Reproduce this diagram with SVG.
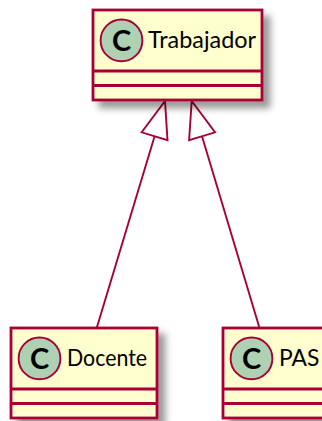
<svg xmlns="http://www.w3.org/2000/svg" width="322" height="421" viewBox="0 0 322 421">
<defs>
<filter id="sh" x="-20%" y="-20%" width="150%" height="150%">
<feGaussianBlur in="SourceAlpha" stdDeviation="3.5" result="b"/>
<feColorMatrix in="b" type="matrix" values="0 0 0 0 0  0 0 0 0 0  0 0 0 0 0  0 0 0 0.4 0" result="c"/>
<feOffset in="c" dx="7" dy="7" result="o"/>
<feBlend in="SourceGraphic" in2="o" mode="normal"/>
</filter>
<style>
.box{fill:#FEFECE;stroke:#A80036;stroke-width:2.8}
.sep{stroke:#A80036;stroke-width:2.8}
.circ{fill:#ADD1B2;stroke:#A80036;stroke-width:1.9}
.cl{font-family:Lato,"Liberation Sans",sans-serif;font-weight:bold;font-size:29px;fill:#000;text-anchor:middle}
.name{font-family:Lato,"Liberation Sans",sans-serif;font-size:22.8px;fill:#000}
.edge{stroke:#A80036;stroke-width:1.9;fill:none}
.head{stroke:#A80036;stroke-width:1.9;fill:#FFFFFF}
</style>
</defs>
<g id="connectors">
<line class="edge" x1="154.6" y1="136.2" x2="96.7" y2="328"/>
<polygon class="head" points="165,101 141.7,132.3 167.5,140.1"/>
<line class="edge" x1="202" y1="136.2" x2="259.5" y2="328"/>
<polygon class="head" points="191.7,101 215,132.3 189.1,140.1"/>
</g>
<g id="Trabajador">
<rect class="box" x="93" y="10" width="169" height="90" filter="url(#sh)"/>
<circle class="circ" cx="121.5" cy="40.4" r="20.9"/>
<text class="cl" x="121.5" y="50.8">C</text>
<text class="name" x="148" y="48.3" textLength="108" lengthAdjust="spacingAndGlyphs">Trabajador</text>
<line class="sep" x1="93" y1="71" x2="262" y2="71"/>
<line class="sep" x1="93" y1="85.5" x2="262" y2="85.5"/>
</g>
<g id="Docente">
<rect class="box" x="11" y="328" width="146" height="90" filter="url(#sh)"/>
<circle class="circ" cx="39.5" cy="358.4" r="20.9"/>
<text class="cl" x="39.5" y="368.8">C</text>
<text class="name" x="67" y="366.3" textLength="80" lengthAdjust="spacingAndGlyphs">Docente</text>
<line class="sep" x1="11" y1="389" x2="157" y2="389"/>
<line class="sep" x1="11" y1="403.5" x2="157" y2="403.5"/>
</g>
<g id="PAS">
<rect class="box" x="223" y="328" width="104" height="90" filter="url(#sh)"/>
<circle class="circ" cx="251.5" cy="358.4" r="20.9"/>
<text class="cl" x="251.5" y="368.8">C</text>
<text class="name" x="279" y="366.3">PAS</text>
<line class="sep" x1="223" y1="389" x2="327" y2="389"/>
<line class="sep" x1="223" y1="403.5" x2="327" y2="403.5"/>
</g>
</svg>
